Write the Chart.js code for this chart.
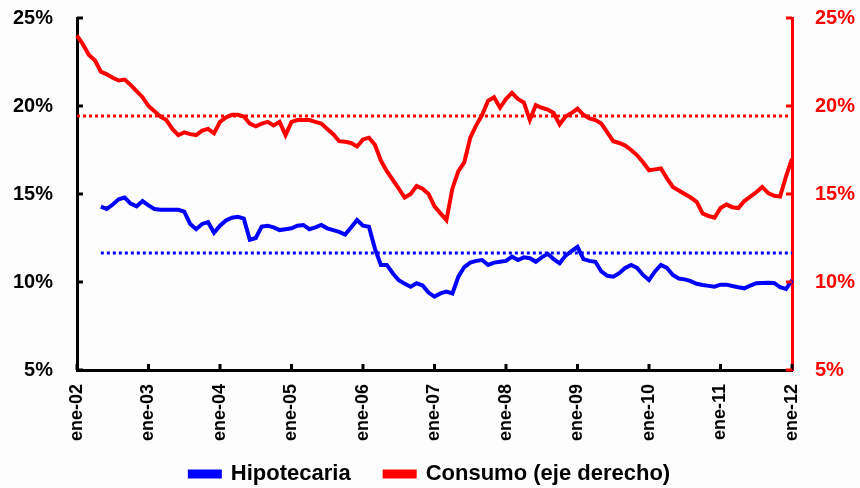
<!DOCTYPE html>
<html>
<head>
<meta charset="utf-8">
<script src="https://cdn.jsdelivr.net/npm/chart.js@4.4.1/dist/chart.umd.min.js"></script>
<style>
  html, body { margin: 0; padding: 0; background: #fdfdfd; }
  #wrap { width: 860px; height: 488px; position: relative; }
</style>
</head>
<body>
<div id="wrap"><canvas id="c" width="860" height="488"></canvas></div>
<script>
// ---- data ----
const meses = ['ene','feb','mar','abr','may','jun','jul','ago','sep','oct','nov','dic'];
const anios = ['02','03','04','05','06','07','08','09','10','11','12'];

const consumo = [
  24.0, 23.5, 22.9, 22.6, 21.95, 21.8, 21.6, 21.45, 21.5, 21.2, 20.85, 20.5,
  20.0, 19.7, 19.4, 19.2, 18.7, 18.35, 18.5, 18.4, 18.35, 18.6, 18.7, 18.45,
  19.1, 19.35, 19.5, 19.5, 19.4, 19.0, 18.85, 19.0, 19.1, 18.9, 19.1, 18.35,
  19.1, 19.2, 19.2, 19.2, 19.1, 19.0, 18.7, 18.4, 18.0, 17.97, 17.9, 17.7,
  18.1, 18.2, 17.8, 16.9, 16.3, 15.8, 15.3, 14.8, 15.0, 15.45, 15.3, 15.0,
  14.3, 13.9, 13.52, 15.3, 16.3, 16.8, 18.2, 18.9, 19.5, 20.3, 20.5, 19.9,
  20.4, 20.75, 20.4, 20.2, 19.2, 20.05, 19.9, 19.8, 19.6, 18.95, 19.4, 19.6,
  19.85, 19.5, 19.3, 19.2, 19.0, 18.5, 18.0, 17.9, 17.75, 17.5, 17.2, 16.8,
  16.35, 16.4, 16.45, 15.9, 15.4, 15.2, 15.0, 14.8, 14.55, 13.9, 13.75, 13.65,
  14.2, 14.4, 14.25, 14.2, 14.6, 14.85, 15.1, 15.4, 15.05, 14.9, 14.85, 16.0,
  17.0
];

const hipotecaria = [
  null, null, null, null, 14.28, 14.15, 14.4, 14.7, 14.8, 14.45, 14.3, 14.6,
  14.35, 14.15, 14.1, 14.1, 14.1, 14.1, 14.0, 13.3, 13.0, 13.3, 13.4, 12.8,
  13.2, 13.5, 13.65, 13.7, 13.6, 12.4, 12.5, 13.15, 13.2, 13.1, 12.95, 13.0,
  13.05, 13.2, 13.24, 13.0, 13.1, 13.24, 13.05, 12.95, 12.85, 12.7, 13.1, 13.52,
  13.2, 13.14, 11.9, 10.97, 10.97, 10.5, 10.1, 9.9, 9.73, 9.93, 9.8, 9.4,
  9.17, 9.35, 9.45, 9.35, 10.3, 10.85, 11.1, 11.2, 11.25, 10.97, 11.1, 11.15,
  11.2, 11.44, 11.25, 11.4, 11.35, 11.15, 11.4, 11.6, 11.3, 11.06, 11.5, 11.75,
  12.0, 11.3, 11.2, 11.15, 10.6, 10.35, 10.3, 10.5, 10.8, 10.97, 10.8, 10.4,
  10.11, 10.6, 10.97, 10.8, 10.4, 10.2, 10.15, 10.05, 9.9, 9.83, 9.78, 9.73,
  9.85, 9.85, 9.77, 9.7, 9.64, 9.8, 9.93, 9.95, 9.96, 9.95, 9.7, 9.6,
  10.1
];

const promedioConsumo = 19.43;
const promedioHipotecaria = 11.65;
const yTicks = [5, 10, 15, 20, 25];

// ---- build ----
const labels = [];
anios.forEach(a => meses.forEach(m => labels.push(m + '-' + a)));
labels.length = consumo.length;

const promConsumoSerie = consumo.map(() => promedioConsumo);
const promHipSerie = hipotecaria.map(v => (v === null ? null : promedioHipotecaria));

const FONT = "'Liberation Sans', Arial, sans-serif";

const innerTicks = {
  id: 'innerTicks',
  afterLayout(chart) {
    // let the rotated x labels extend below the (short) x-axis box without clipping
    const x = chart.scales.x;
    x.bottom = x.top + 95;
  },
  afterDatasetsDraw(chart) {
    const ctx = chart.ctx;
    const x = chart.scales.x, y = chart.scales.y, y1 = chart.scales.y1;
    const L = 6;
    ctx.save();
    ctx.lineWidth = 3;
    ctx.strokeStyle = '#000';
    labels.forEach((lab, i) => {
      if (i % 12 !== 0) return;
      const px = x.getPixelForValue(i);
      ctx.beginPath(); ctx.moveTo(px, x.top); ctx.lineTo(px, x.top - L); ctx.stroke();
    });
    yTicks.forEach(v => {
      const py = y.getPixelForValue(v);
      ctx.beginPath(); ctx.moveTo(y.right, py); ctx.lineTo(y.right + L, py); ctx.stroke();
    });
    ctx.strokeStyle = '#ff0000';
    yTicks.forEach(v => {
      const py = y1.getPixelForValue(v);
      ctx.beginPath(); ctx.moveTo(y1.left, py); ctx.lineTo(y1.left - L, py); ctx.stroke();
    });
    ctx.restore();
  }
};

function fitY(width) {
  return s => { s.width = width; s.paddingTop = 0; s.paddingBottom = 0; };
}

new Chart(document.getElementById('c'), {
  type: 'line',
  data: {
    labels: labels,
    datasets: [
      {
        label: 'Hipotecaria',
        data: hipotecaria,
        yAxisID: 'y',
        borderColor: '#0000ff',
        backgroundColor: '#0000ff',
        borderWidth: 4,
        pointRadius: 0,
        tension: 0,
        spanGaps: false
      },
      {
        label: 'Consumo (eje derecho)',
        data: consumo,
        yAxisID: 'y1',
        borderColor: '#ff0000',
        backgroundColor: '#ff0000',
        borderWidth: 4,
        pointRadius: 0,
        tension: 0
      },
      {
        label: 'prom-hip',
        data: promHipSerie,
        yAxisID: 'y',
        borderColor: '#0000ff',
        borderWidth: 3,
        borderDash: [3, 3],
        pointRadius: 0
      },
      {
        label: 'prom-cons',
        data: promConsumoSerie,
        yAxisID: 'y1',
        borderColor: '#ff0000',
        borderWidth: 3,
        borderDash: [3, 3],
        pointRadius: 0
      }
    ]
  },
  options: {
    responsive: false,
    animation: false,
    layout: { padding: { left: 0, right: 0, top: 18, bottom: -7 } },
    plugins: {
      tooltip: { enabled: false },
      legend: {
        position: 'bottom',
        labels: {
          filter: item => item.datasetIndex < 2,
          color: '#000',
          boxWidth: 30,
          boxHeight: 5,
          padding: 34,
          font: { family: FONT, size: 22, weight: 'bold' }
        }
      }
    },
    scales: {
      x: {
        type: 'category',
        offset: false,
        grid: { display: false, drawTicks: false },
        border: { display: true, color: '#000', width: 3 },
        afterFit: s => { s.height = 59; },
        ticks: {
          autoSkip: false,
          maxRotation: 90,
          minRotation: 90,
          padding: 14,
          color: '#000',
          font: { family: FONT, size: 18, weight: 'bold' },
          callback: (v, i) => (i % 12 === 0 ? labels[i] : '')
        }
      },
      y: {
        position: 'left',
        min: 5, max: 25,
        grid: { display: false, drawTicks: false },
        border: { display: true, color: '#000', width: 3 },
        afterFit: fitY(77),
        ticks: {
          stepSize: 5,
          padding: 24,
          color: '#000',
          font: { family: FONT, size: 20, weight: 'bold' },
          callback: v => v + '%'
        }
      },
      y1: {
        position: 'right',
        min: 5, max: 25,
        grid: { display: false, drawTicks: false },
        border: { display: true, color: '#ff0000', width: 3 },
        afterFit: fitY(68),
        ticks: {
          stepSize: 5,
          padding: 23,
          color: '#ff0000',
          font: { family: FONT, size: 20, weight: 'bold' },
          callback: v => v + '%'
        }
      }
    }
  },
  plugins: [innerTicks]
});
</script>
</body>
</html>
